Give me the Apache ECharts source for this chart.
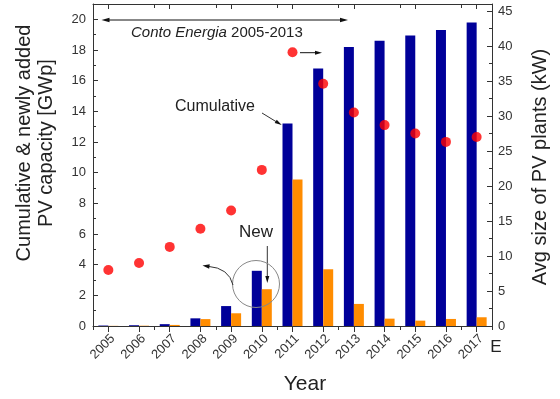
<!DOCTYPE html>
<html>
<head>
<meta charset="utf-8">
<script src="https://cdn.jsdelivr.net/npm/echarts@6/dist/echarts.min.js"></script>
<style>
html,body{margin:0;padding:0;background:#fff;}
#c{width:560px;height:399px;}
</style>
</head>
<body>
<div id="c"></div>
<script>
var years = ['2005','2006','2007','2008','2009','2010','2011','2012','2013','2014','2015','2016','2017'];
var cumulative = [0.03, 0.05, 0.12, 0.5, 1.3, 3.6, 13.2, 16.8, 18.2, 18.6, 18.95, 19.3, 19.8];
var newlyAdded = [0.01, 0.02, 0.07, 0.45, 0.83, 2.4, 9.55, 3.7, 1.44, 0.48, 0.35, 0.46, 0.57];
var avgSize = [8.0, 9.0, 11.3, 13.9, 16.5, 22.3, 39.1, 34.6, 30.5, 28.7, 27.5, 26.3, 27.0];
var leftTicks = [0, 2, 4, 6, 8, 10, 12, 14, 16, 18, 20];
var rightTicks = [0, 5, 10, 15, 20, 25, 30, 35, 40, 45];

var FONT = "'Liberation Sans', Arial, sans-serif";
var AX = '#333';

function head(tx, ty, fx, fy, len, w, color) {
  var dx = tx - fx, dy = ty - fy, d = Math.sqrt(dx*dx + dy*dy);
  var ux = dx/d, uy = dy/d;
  var bx = tx - ux*len, by = ty - uy*len;
  return {type:'polygon', shape:{points:[[tx,ty],[bx - uy*w, by + ux*w],[bx + uy*w, by - ux*w]]}, style:{fill:color}, z:100};
}
function seg(x1,y1,x2,y2,color){
  return {type:'line', shape:{x1:x1,y1:y1,x2:x2,y2:y2}, style:{stroke:color, lineWidth:1}, z:100};
}

var chart = echarts.init(document.getElementById('c'), null, {renderer:'canvas'});

function catAxis(pos, opts) {
  var base = {
    type:'category', data: years, position: pos, boundaryGap: true,
    axisLine:{show:false}, axisLabel:{show:false}, splitLine:{show:false},
    axisTick:{show:true}
  };
  return Object.assign(base, opts);
}

var option = {
  backgroundColor:'#fff',
  animation:false,
  grid:{left:93, right:68, top:4, bottom:73, containLabel:false},
  xAxis:[
    catAxis('bottom', {
      axisLine:{show:true, lineStyle:{color:AX, width:1}},
      axisTick:{show:true, alignWithLabel:true, length:6, lineStyle:{color:AX}},
      axisLabel:{show:true, rotate:45, fontSize:13, color:'#333', fontFamily:FONT, margin:6,
        align:'right', verticalAlign:'top'}
    }),
    catAxis('bottom', {axisTick:{show:true, length:4, lineStyle:{color:AX}}}),
    catAxis('top', {
      axisLine:{show:true, lineStyle:{color:AX, width:1}},
      axisTick:{show:true, inside:true, alignWithLabel:true, length:5, lineStyle:{color:AX}}
    }),
    catAxis('top', {axisTick:{show:true, inside:true, length:4, lineStyle:{color:AX}}})
  ],
  yAxis:[
    {
      type:'value', position:'left', min:0, max:21, interval:2,
      axisLine:{show:true, lineStyle:{color:AX, width:1}},
      axisTick:{show:true, inside:true, length:5, lineStyle:{color:AX}},
      minorTick:{show:true, splitNumber:2, length:3, lineStyle:{color:AX}},
      splitLine:{show:false}, minorSplitLine:{show:false},
      axisLabel:{fontSize:13, color:'#333', fontFamily:FONT, margin:7,
        formatter:function(v){ return leftTicks.indexOf(v) >= 0 ? String(v) : ''; }}
    },
    {
      type:'value', position:'right', min:0, max:46, interval:5,
      axisLine:{show:true, lineStyle:{color:AX, width:1}},
      axisTick:{show:true, inside:true, length:5, lineStyle:{color:AX}},
      minorTick:{show:true, splitNumber:2, length:3, lineStyle:{color:AX}},
      splitLine:{show:false}, minorSplitLine:{show:false},
      axisLabel:{fontSize:13, color:'#333', fontFamily:FONT, margin:6,
        formatter:function(v){ return rightTicks.indexOf(v) >= 0 ? String(v) : ''; }}
    }
  ],
  series:[
    {name:'Cumulative', type:'bar', xAxisIndex:0, yAxisIndex:0, data:cumulative,
      barWidth:10, barGap:'0%', itemStyle:{color:'#000099'}, z:2},
    {name:'New', type:'bar', xAxisIndex:0, yAxisIndex:0, data:newlyAdded,
      barWidth:10, barGap:'0%', itemStyle:{color:'#FF8C00'}, z:2},
    {name:'Avg size', type:'scatter', xAxisIndex:0, yAxisIndex:1, data:avgSize,
      symbol:'circle', symbolSize:10, itemStyle:{color:'#FF0000'}, z:5}
  ],
  graphic:[
    seg(106,20,344,20,'#111'),
    head(101.5,20,110,20,8,2.2,'#111'),
    head(348,20,340,20,8,2.2,'#111'),
    {type:'text', left:131, top:25, z:100, style:{
      text:'{i|Conto Energia} 2005-2013', fontSize:15, fontFamily:FONT, fill:'#222',
      rich:{i:{fontStyle:'italic', fontSize:15, fontFamily:FONT, fill:'#222'}}}},
    seg(300,52.7,318,52.7,'#111'),
    head(322,52.7,314,52.7,7,2,'#111'),
    {type:'text', x:215, y:106.5, z:100, style:{text:'Cumulative', fontSize:16, fontFamily:FONT, fill:'#222', align:'center', verticalAlign:'middle'}},
    seg(262,113,278,122.8,'#333'),
    head(281.7,125,275,120.9,7,2,'#111'),
    {type:'text', x:256, y:232, z:100, style:{text:'New', fontSize:17, fontFamily:FONT, fill:'#222', align:'center', verticalAlign:'middle'}},
    seg(267.3,246,267.3,277,'#333'),
    head(267.3,283,267.3,275,7,2,'#111'),
    {type:'circle', shape:{cx:256, cy:284, r:23.5}, style:{fill:'none', stroke:'#888', lineWidth:1}, z:100},
    {type:'bezierCurve', shape:{x1:233, y1:285, x2:208, y2:266.3, cpx1:229, cpy1:268}, style:{fill:'none', stroke:'#333', lineWidth:1}, z:100},
    head(202.5,265.6,210,266.6,7,2.2,'#111'),
    {type:'text', x:24, y:143, rotation:Math.PI/2, z:100, style:{text:'Cumulative & newly added', fontSize:20, fontFamily:FONT, fill:'#222', align:'center', verticalAlign:'middle'}},
    {type:'text', x:46, y:143, rotation:Math.PI/2, z:100, style:{text:'PV capacity [GWp]', fontSize:20, fontFamily:FONT, fill:'#222', align:'center', verticalAlign:'middle'}},
    {type:'text', x:540, y:167, rotation:Math.PI/2, z:100, style:{text:'Avg size of PV plants (kW)', fontSize:20, fontFamily:FONT, fill:'#222', align:'center', verticalAlign:'middle'}},
    {type:'text', x:305, y:384, z:100, style:{text:'Year', fontSize:21, fontFamily:FONT, fill:'#222', align:'center', verticalAlign:'middle'}},
    {type:'text', x:496, y:347, z:100, style:{text:'E', fontSize:17, fontFamily:FONT, fill:'#222', align:'center', verticalAlign:'middle'}}
  ]
};
chart.setOption(option);
</script>
</body>
</html>
